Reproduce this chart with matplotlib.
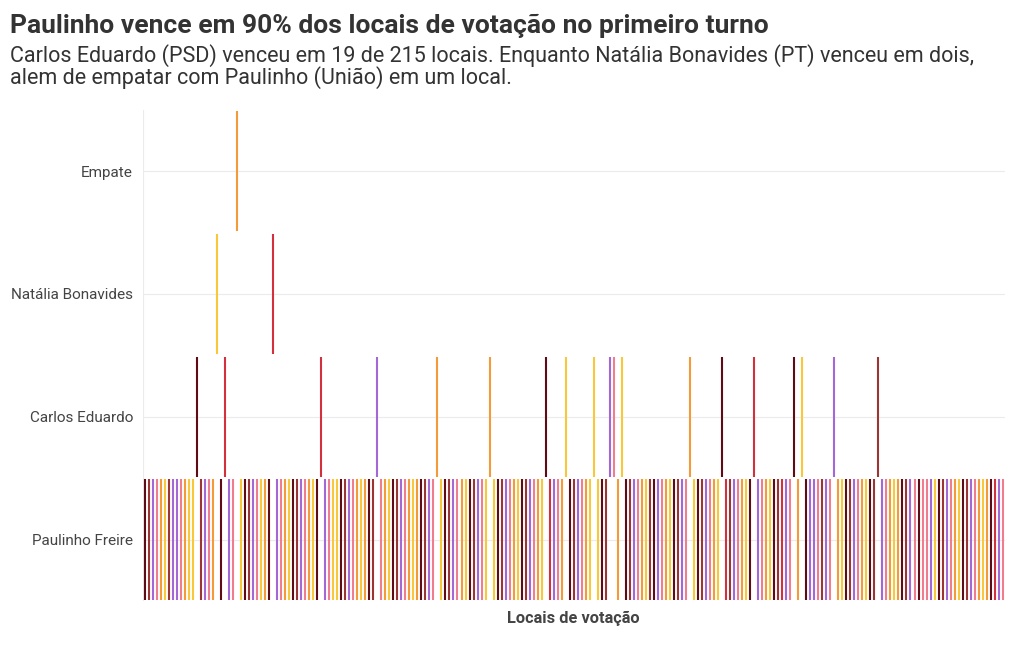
import matplotlib.pyplot as plt
import numpy as np

# Candidates (rows, bottom to top)
CATEGORIES = ["Paulinho Freire", "Carlos Eduardo", "Natália Bonavides", "Empate"]
N_LOCAIS = 215

# Locations (index along x) not won by Paulinho
CARLOS_IDX = [13, 20, 44, 58, 73, 86, 100, 105, 112, 116, 117, 119, 136, 144, 152, 162, 164, 172, 183]
NATALIA_IDX = [18, 32]
EMPATE_IDX = [23]

# Colour group of each location, one letter per location
ZONE_CODES = (
    "MBPKOYBPPKOYYMBPKOYMRPKOYMBPKYOMRPKOYMBPKOYMRPKYYMBPKOYOMBPKOYMBPKOYOMBPKOYMBPKOYMBPKYOYMBPKOYMBPKOY"
    "MRPKOYMBPKOYYYMBPKOYMBPKOYBMPKOYMBPKOYMBPKOYMRBPKOYMRPKOYMBRPKMOYMPPKBPKPOYMBPKOYMBBPKOYOMBPKMKKPYMBPKOYMBPKOYOMRPK"
)
ZONE_COLORS = {
    "M": "#5e0b15",
    "B": "#9c3434",
    "R": "#d1303c",
    "P": "#a468d6",
    "K": "#ef7d8d",
    "O": "#f59a38",
    "Y": "#f8c83a",
}

winner = np.zeros(N_LOCAIS, dtype=int)
winner[CARLOS_IDX] = 1
winner[NATALIA_IDX] = 2
winner[EMPATE_IDX] = 3
colors = [ZONE_COLORS[c] for c in ZONE_CODES]

plt.rcParams["font.family"] = ["Roboto", "DejaVu Sans"]

fig = plt.figure(figsize=(10.2, 6.5), dpi=100)
ax = fig.add_axes([0.140, 0.0754, 0.845, 0.756])

x = np.arange(N_LOCAIS)
ax.vlines(x, winner - 0.49, winner + 0.49, colors=colors, linewidth=1.5, zorder=3)

ax.set_xlim(-0.5, 214.5)
ax.set_ylim(-0.5, 3.5)
ax.set_yticks(range(len(CATEGORIES)))
ax.set_yticklabels(CATEGORIES, fontsize=11, color="#444444")
ax.set_xticks([])
ax.tick_params(axis="y", length=0, pad=7)
for s in ax.spines.values():
    s.set_visible(False)
ax.grid(axis="y", color="#ebebeb", linewidth=0.8, zorder=0)
ax.axvline(-0.5, color="#ebebeb", linewidth=0.8, zorder=0)

ax.set_xlabel("Locais de votação", fontsize=11.8, fontweight="bold", color="#444444", labelpad=7)

fig.text(0.0098, 0.960, "Paulinho vence em 90% dos locais de votação no primeiro turno",
         fontsize=19, fontweight="bold", color="#333333", va="center")
fig.text(0.0098, 0.915, "Carlos Eduardo (PSD) venceu em 19 de 215 locais. Enquanto Natália Bonavides (PT) venceu em dois,",
         fontsize=15.5, color="#333333", va="center")
fig.text(0.0098, 0.880, "alem de empatar com Paulinho (União) em um local.",
         fontsize=15.5, color="#333333", va="center")

fig.savefig("out.png", dpi=100)
